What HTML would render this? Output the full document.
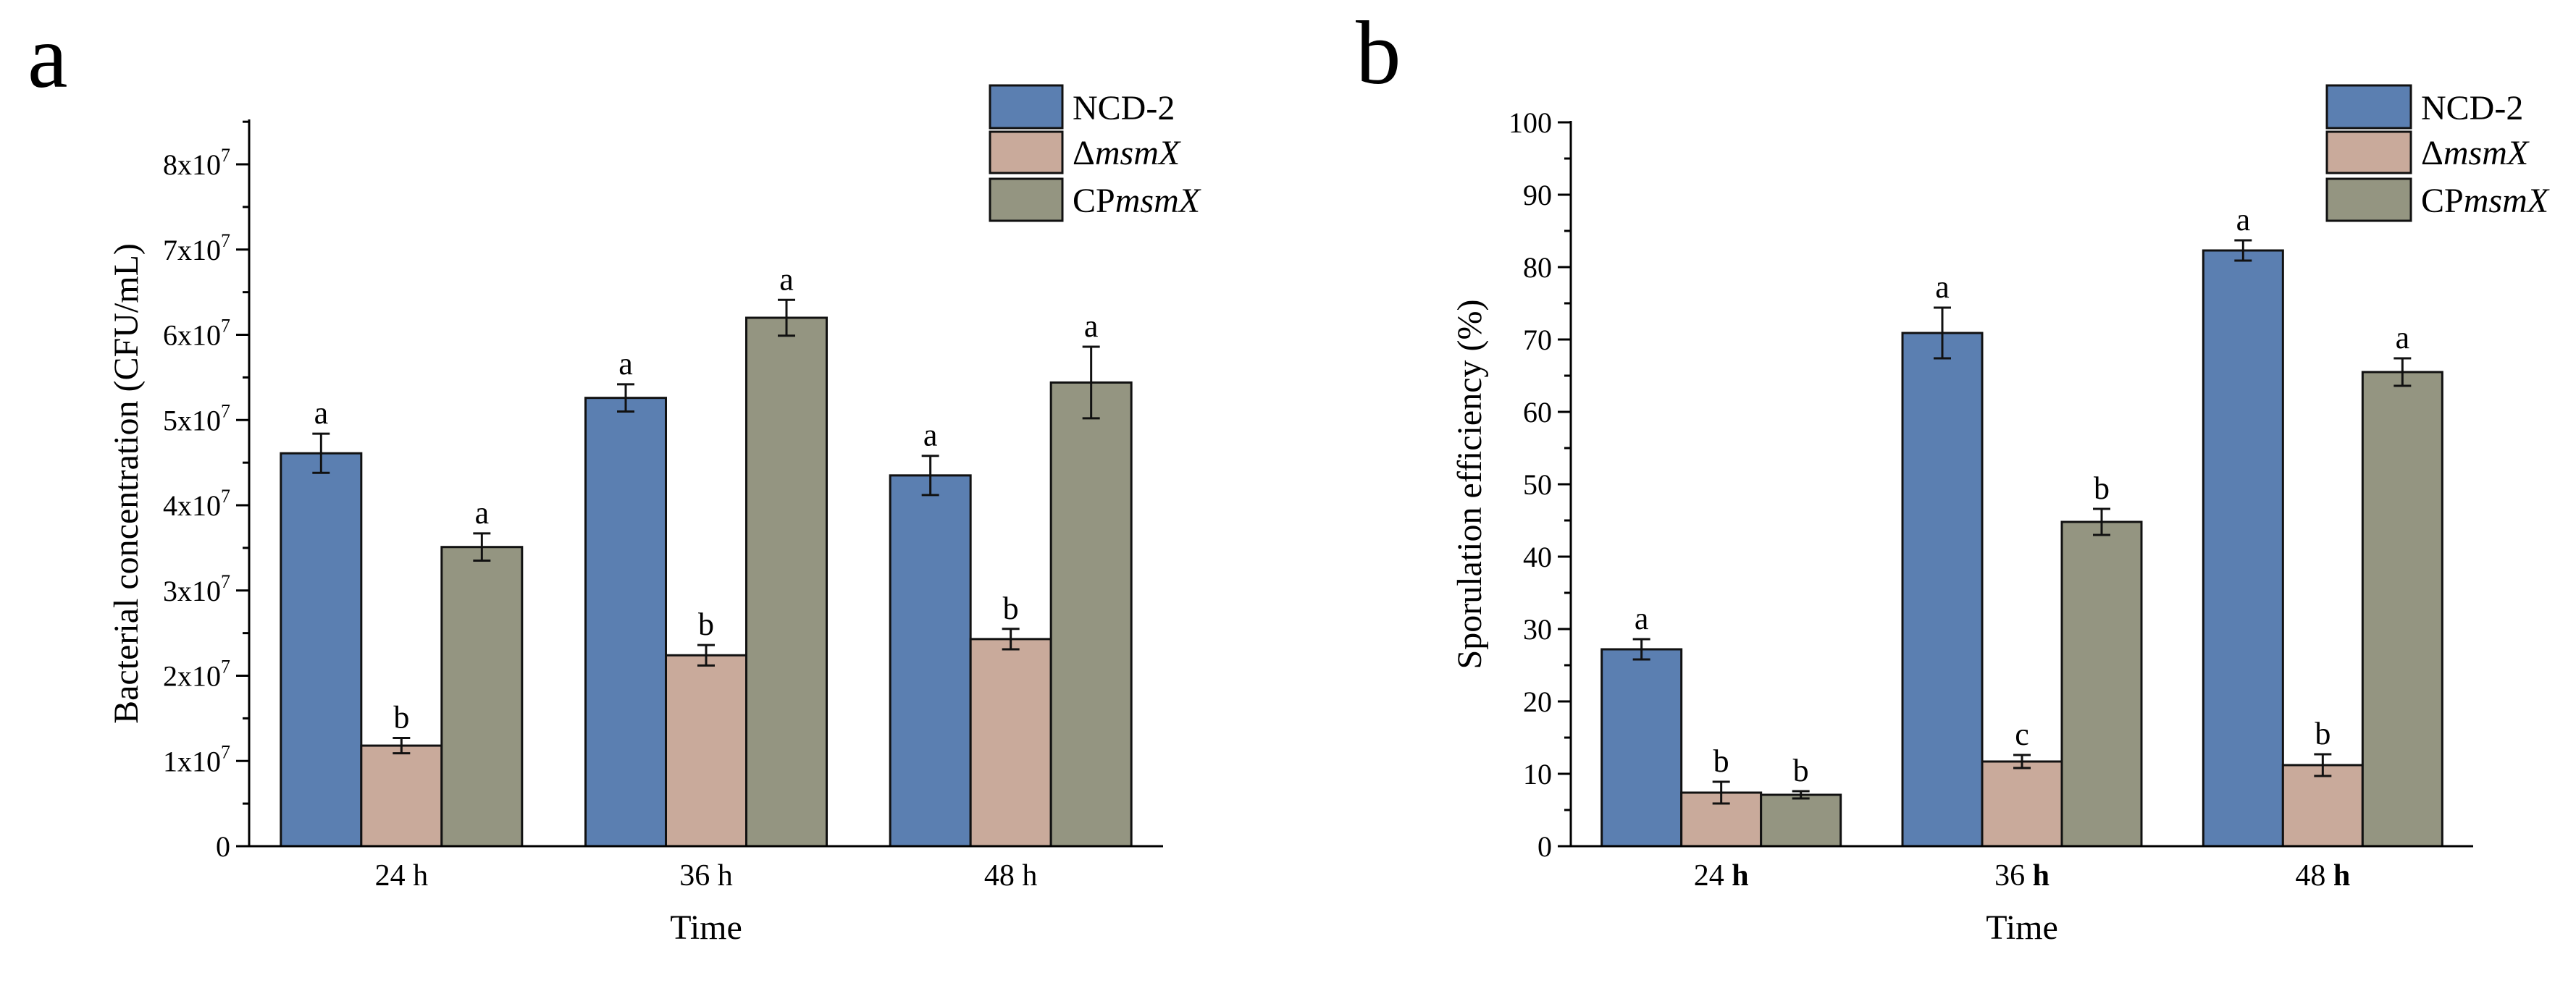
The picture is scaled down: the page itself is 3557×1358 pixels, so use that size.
<!DOCTYPE html>
<html><head><meta charset="utf-8"><style>
html,body{margin:0;padding:0;background:#fff;}
svg{display:block;font-family:"Liberation Serif",serif;}
</style></head><body>
<svg id="fig" width="3557" height="1358" viewBox="0 0 3557 1358" xmlns="http://www.w3.org/2000/svg">
<text x="38" y="120" font-size="125">a</text>
<text x="1872" y="115" font-size="125">b</text>
<g id="chartA"></g>
<g id="chartB"></g>
</svg>
<script>
const categories = ["24 h", "36 h", "48 h"];
const seriesNames = ["NCD-2", "ΔmsmX", "CPmsmX"];
const colors = ["#5b7fb1", "#c9aa9b", "#949581"];
// Chart A values (units of 1e7 CFU/mL)
const aNCD = [4.61, 5.26, 4.35];
const aDel = [1.18, 2.24, 2.43];
const aCP  = [3.51, 6.20, 5.44];
const aNCDerr = [0.23, 0.16, 0.23];
const aDelerr = [0.09, 0.12, 0.12];
const aCPerr  = [0.16, 0.21, 0.42];
const aLetters = [["a","a","a"],["b","b","b"],["a","a","a"]];
const aTicks = [0,1,2,3,4,5,6,7,8];
// Chart B values (%)
const bNCD = [27.2, 70.9, 82.3];
const bDel = [7.4, 11.7, 11.2];
const bCP  = [7.1, 44.8, 65.5];
const bNCDerr = [1.4, 3.5, 1.4];
const bDelerr = [1.5, 0.9, 1.5];
const bCPerr  = [0.5, 1.8, 1.9];
const bLetters = [["a","a","a"],["b","c","b"],["b","b","a"]];
const bTicks = [0,10,20,30,40,50,60,70,80,90,100];

const NS = "http://www.w3.org/2000/svg";
function mk(parent, tag, attrs, text){
  const e = document.createElementNS(NS, tag);
  for (const k in attrs) e.setAttribute(k, attrs[k]);
  if (text !== undefined) e.textContent = text;
  parent.appendChild(e);
  return e;
}

function drawChart(cfg){
  const g = document.getElementById(cfg.id);
  const y = v => cfg.y0 - (v - 0) / (cfg.vmax) * (cfg.y0 - cfg.yTop);
  const catW = (cfg.xEnd - cfg.x0) / categories.length;
  const barW = cfg.barW;
  const xc = i => cfg.x0 + catW * (i + 0.5);
  const series = [cfg.s0, cfg.s1, cfg.s2];
  const errs = [cfg.e0, cfg.e1, cfg.e2];
  // bars
  for (let s = 0; s < 3; s++) {
    for (let i = 0; i < categories.length; i++) {
      const left = xc(i) - 1.5 * barW + s * barW;
      const top = y(series[s][i]);
      const r = mk(g, "rect", {x: left, y: top, width: barW, height: cfg.y0 - top, fill: colors[s], stroke: "#111", "stroke-width": 3});
      
      
      const cx = left + barW / 2;
      const eg = mk(g, "g", {stroke: "#111", "stroke-width": 3});
      
      
      const hi = y(series[s][i] + errs[s][i]), lo = y(series[s][i] - errs[s][i]);
      mk(eg, "line", {x1: cx, x2: cx, y1: hi, y2: lo});
      mk(eg, "line", {x1: cx - 12, x2: cx + 12, y1: hi, y2: hi});
      mk(eg, "line", {x1: cx - 12, x2: cx + 12, y1: lo, y2: lo});
      const t = mk(g, "text", {x: cx, y: hi - 14, "font-size": 44, "text-anchor": "middle"}, cfg.letters[s][i]);
      
      
    }
  }
  // axes
  const ax = mk(g, "g", {stroke: "#000", "stroke-width": 3});
  
  
  mk(ax, "line", {x1: cfg.x0, x2: cfg.x0, y1: cfg.yTop - 2, y2: cfg.y0});
  mk(ax, "line", {x1: cfg.x0 - 18, x2: cfg.xEnd, y1: cfg.y0, y2: cfg.y0});
  const vTopAxis = cfg.vmax;
  for (let k = 0; k < cfg.ticks.length; k++) {
    const v = cfg.ticks[k];
    mk(ax, "line", {x1: cfg.x0 - 18, x2: cfg.x0, y1: y(v), y2: y(v)});
    const mv = v + cfg.step / 2;
    if (mv <= vTopAxis + 1e-9) mk(ax, "line", {x1: cfg.x0 - 9, x2: cfg.x0, y1: y(mv), y2: y(mv)});
    let t;
    if (cfg.sci && v !== 0) {
      t = mk(g, "text", {x: cfg.x0 - 26, y: y(v) + 14, "font-size": 40, "text-anchor": "end"});
      const a = mk(t, "tspan", {}, v + "x10");
      const b = mk(t, "tspan", {dy: -18, "font-size": 26}, "7");
    } else {
      t = mk(g, "text", {x: cfg.x0 - 26, y: y(v) + 14, "font-size": 40, "text-anchor": "end"}, String(v));
    }
    
    
  }
  for (let i = 0; i < categories.length; i++) {
    const parts = categories[i].split(" ");
    const t = mk(g, "text", {x: xc(i), y: cfg.y0 + 54, "font-size": 42, "text-anchor": "middle"});
    mk(t, "tspan", {}, parts[0] + " ");
    mk(t, "tspan", {"font-weight": cfg.boldH ? "bold" : "normal"}, parts[1]);
    
    
  }
  const xt = mk(g, "text", {x: (cfg.x0 + cfg.xEnd) / 2, y: 1297, "font-size": 48, "text-anchor": "middle"}, "Time");
  
  
  const yt = mk(g, "text", {x: 0, y: 0, "font-size": 48, "text-anchor": "middle", transform: "translate(" + cfg.ytx + "," + ((cfg.yTop + cfg.y0) / 2) + ") rotate(-90)"}, cfg.ytitle);
  
  
  // legend
  const lg = mk(g, "g", {});
  
  
  const rows = [[118, 177], [182, 239], [247, 305]];
  for (let s = 0; s < 3; s++) {
    mk(lg, "rect", {x: cfg.legX, y: rows[s][0], width: cfg.legW, height: rows[s][1] - rows[s][0], fill: colors[s], stroke: "#111", "stroke-width": 3});
    const t = mk(lg, "text", {x: cfg.legX + cfg.legW + 14, y: rows[s][1] - 12, "font-size": 48});
    if (s === 0) t.textContent = "NCD-2";
    else if (s === 1) { mk(t, "tspan", {}, "Δ"); mk(t, "tspan", {"font-style": "italic"}, "msmX"); }
    else { mk(t, "tspan", {}, "CP"); mk(t, "tspan", {"font-style": "italic"}, "msmX"); }
    
    
  }
}

drawChart({id: "chartA", key: "a", x0: 344, xEnd: 1606, y0: 1169, yTop: 167, vmax: 8.51, step: 1,
  barW: 111, s0: aNCD, s1: aDel, s2: aCP, e0: aNCDerr, e1: aDelerr, e2: aCPerr, letters: aLetters,
  ticks: aTicks, sci: true, boldH: false, ytx: 190, ytitle: "Bacterial concentration (CFU/mL)", legX: 1367, legW: 100});
drawChart({id: "chartB", key: "b", x0: 2169, xEnd: 3415, y0: 1169, yTop: 169, vmax: 100, step: 10,
  barW: 110, s0: bNCD, s1: bDel, s2: bCP, e0: bNCDerr, e1: bDelerr, e2: bCPerr, letters: bLetters,
  ticks: bTicks, sci: false, boldH: true, ytx: 2045, ytitle: "Sporulation efficiency (%)", legX: 3213, legW: 116});
</script>
</body></html>
